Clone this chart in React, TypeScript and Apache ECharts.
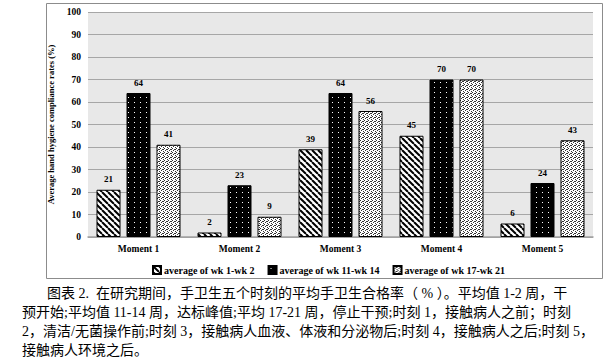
import React, { useEffect, useRef } from "react";
import * as echarts from "echarts";

const categories = ["Moment 1", "Moment 2", "Moment 3", "Moment 4", "Moment 5"];
const seriesNames = ["average of wk 1-wk 2", "average of wk 11-wk 14", "average of wk 17-wk 21"];
const wk1to2 = [21, 2, 39, 45, 6];
const wk11to14 = [64, 23, 64, 70, 24];
const wk17to21 = [41, 9, 56, 70, 43];
const yAxisName = "Average hand hygiene compliance rates (%)";
const captionLines = [
  "图表 2.  在研究期间，手卫生五个时刻的平均手卫生合格率（ % ）。平均值 1-2 周，干",
  "预开始;平均值 11-14 周，达标峰值;平均 17-21 周，停止干预;时刻 1，接触病人之前；时刻",
  "2，清洁/无菌操作前;时刻 3，接触病人血液、体液和分泌物后;时刻 4，接触病人之后;时刻 5，",
  "接触病人环境之后。",
];

function makeStripe(): any {
  const c = document.createElement("canvas");
  c.width = 6; c.height = 6;
  const ctx = c.getContext("2d")!;
  ctx.fillStyle = "#fff"; ctx.fillRect(0, 0, 6, 6);
  ctx.strokeStyle = "#000"; ctx.lineWidth = 2;
  for (const o of [-6, 0, 6]) {
    ctx.beginPath(); ctx.moveTo(o, 0); ctx.lineTo(o + 6, 6); ctx.stroke();
  }
  return { image: c, repeat: "repeat", imageWidth: 6, imageHeight: 6 };
}
function makeDots(): any {
  const c = document.createElement("canvas");
  c.width = 6; c.height = 5;
  const ctx = c.getContext("2d")!;
  ctx.fillStyle = "#000"; ctx.fillRect(0, 0, 6, 5);
  ctx.fillStyle = "#fff"; ctx.fillRect(2, 2, 1, 1);
  return { image: c, repeat: "repeat", imageWidth: 6, imageHeight: 5 };
}
function makeSpeckle(): any {
  const c = document.createElement("canvas");
  c.width = 4; c.height = 4;
  const ctx = c.getContext("2d")!;
  ctx.fillStyle = "#fff"; ctx.fillRect(0, 0, 4, 4);
  ctx.fillStyle = "#333";
  [[0, 0], [2, 1], [1, 2], [3, 3], [3, 1]].forEach(([x, y]) => ctx.fillRect(x, y, 1, 1));
  return { image: c, repeat: "repeat", imageWidth: 4, imageHeight: 4 };
}

export default function App() {
  const ref = useRef<HTMLDivElement>(null);
  useEffect(() => {
    const chart = echarts.init(ref.current!, null, { renderer: "svg" });
    const patterns = [makeStripe(), makeDots(), makeSpeckle()];
    const datas = [wk1to2, wk11to14, wk17to21];
    const serif = "'Liberation Serif', 'DejaVu Serif', serif";
    chart.setOption({
      animation: false,
      backgroundColor: "#fff",
      grid: { left: 88, right: 21, top: 12, bottom: 122, backgroundColor: "#e8e8e8", show: true, borderWidth: 0 },
      legend: {
        data: seriesNames,
        left: 147,
        top: 260,
        itemWidth: 8,
        itemHeight: 8,
        itemGap: 13,
        icon: "rect",
        textStyle: { fontFamily: serif, fontWeight: "bold", fontSize: 10, color: "#000", padding: [0, 0, 0, -2] },
      },
      xAxis: {
        type: "category",
        data: categories,
        axisLine: { lineStyle: { color: "#a0a0a0", width: 1.5 } },
        axisTick: { show: false },
        axisLabel: { fontFamily: serif, fontWeight: "bold", fontSize: 9.5, color: "#000", margin: 7 },
      },
      yAxis: {
        type: "value",
        min: 0,
        max: 100,
        interval: 10,
        name: yAxisName,
        nameLocation: "middle",
        nameGap: 27,
        nameTextStyle: { fontFamily: serif, fontWeight: "bold", fontSize: 8.5, color: "#000" },
        axisLine: { show: false },
        axisTick: { show: false },
        axisLabel: { fontFamily: serif, fontWeight: "bold", fontSize: 9.5, color: "#000", margin: 7 },
        splitLine: { lineStyle: { color: "#a6a6a6", width: 1 } },
      },
      series: seriesNames.map((name, i) => ({
        name,
        type: "bar",
        data: datas[i],
        barWidth: 24,
        barGap: "25%",
        itemStyle: { color: patterns[i], borderColor: "#000", borderWidth: 1 },
        label: {
          show: true,
          position: "top",
          distance: 6,
          fontFamily: serif,
          fontWeight: "bold",
          fontSize: 9,
          color: "#000",
        },
      })),
      graphic: [
        {
          type: "rect",
          shape: { x: 46.5, y: 3.5, width: 556, height: 275 },
          style: { fill: "none", stroke: "#8c8c8c", lineWidth: 1 },
          silent: true,
          z: -1,
        },
        ...captionLines.map((t, i) => ({
          type: "text",
          x: i === 0 ? 47 : 22,
          y: 293 + i * 19,
          style: {
            text: t,
            fontFamily: "'Liberation Serif', 'Noto Sans CJK SC', serif",
            fontSize: 14,
            fill: "#000",
            verticalAlign: "middle",
          },
        })),
      ],
    });
    return () => chart.dispose();
  }, []);
  return <div ref={ref} style={{ position: "absolute", left: 0, top: 0, width: 614, height: 359 }} />;
}
